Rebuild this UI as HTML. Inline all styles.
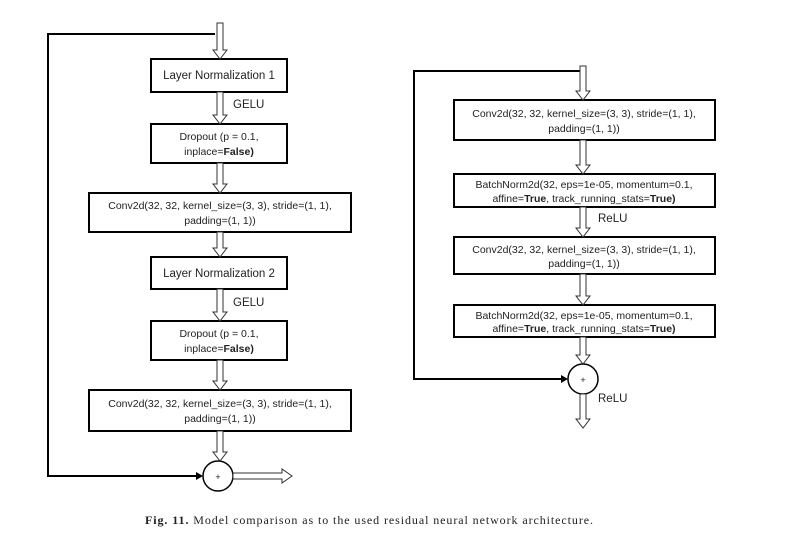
<!DOCTYPE html>
<html><head><meta charset="utf-8"><style>
body{margin:0;background:#fff;width:787px;height:537px;overflow:hidden}
svg{position:absolute;left:0;top:0}
text{font-family:"Liberation Sans",sans-serif;fill:#222}
.b{font-size:10.5px}
.l{font-size:11.5px}
</style></head><body>
<svg id="s" width="787" height="537" viewBox="0 0 787 537">
<g fill="#fff" stroke="#000" stroke-width="2">
<rect x="151" y="59" width="136" height="33"/>
<rect x="151" y="124" width="136" height="39"/>
<rect x="89" y="193" width="262" height="39"/>
<rect x="151" y="257" width="136" height="32"/>
<rect x="151" y="321" width="136" height="39"/>
<rect x="89" y="390" width="262" height="41"/>
<circle cx="218" cy="476" r="15" stroke-width="1.5"/>
<rect x="454" y="100" width="261" height="40"/>
<rect x="454" y="174" width="261" height="33"/>
<rect x="454" y="237" width="261" height="37"/>
<rect x="454" y="305" width="261" height="32"/>
<circle cx="583" cy="379" r="15" stroke-width="1.5"/>
</g>
<g fill="none" stroke="#000" stroke-width="2">
<polyline points="215,34 48,34 48,476 200,476"/>
<polyline points="580,71 414,71 414,379 565,379"/>
</g>
<polygon points="203,476 196,472 196,480" fill="#000"/>
<polygon points="568,379 561,375 561,383" fill="#000"/>
<g id="arr" fill="#fff" stroke="#333" stroke-width="1"></g>
<text x="218" y="480" font-size="9" text-anchor="middle">+</text>
<text x="583" y="383" font-size="9" text-anchor="middle">+</text>
<g class="l" text-anchor="middle">
<text x="219" y="79">Layer Normalization 1</text>
<text x="219" y="277">Layer Normalization 2</text>
</g>
<text class="l" x="233" y="108">GELU</text>
<text class="l" x="233" y="306">GELU</text>
<text class="l" x="598" y="222">ReLU</text>
<text class="l" x="598" y="402">ReLU</text>
<g class="b" text-anchor="middle">
<text x="219" y="140">Dropout (p = 0.1,</text>
<text x="219" y="155">inplace=<tspan font-weight="bold">False)</tspan></text>
<text x="220" y="209">Conv2d(32, 32, kernel_size=(3, 3), stride=(1, 1),</text>
<text x="220" y="224">padding=(1, 1))</text>
<text x="219" y="337">Dropout (p = 0.1,</text>
<text x="219" y="352">inplace=<tspan font-weight="bold">False)</tspan></text>
<text x="220" y="407">Conv2d(32, 32, kernel_size=(3, 3), stride=(1, 1),</text>
<text x="220" y="422">padding=(1, 1))</text>
<text x="584" y="117">Conv2d(32, 32, kernel_size=(3, 3), stride=(1, 1),</text>
<text x="584" y="132">padding=(1, 1))</text>
<text x="584" y="188">BatchNorm2d(32, eps=1e-05, momentum=0.1,</text>
<text x="584" y="202">affine=<tspan font-weight="bold">True</tspan>, track_running_stats=<tspan font-weight="bold">True)</tspan></text>
<text x="584" y="253">Conv2d(32, 32, kernel_size=(3, 3), stride=(1, 1),</text>
<text x="584" y="267">padding=(1, 1))</text>
<text x="584" y="319">BatchNorm2d(32, eps=1e-05, momentum=0.1,</text>
<text x="584" y="332">affine=<tspan font-weight="bold">True</tspan>, track_running_stats=<tspan font-weight="bold">True)</tspan></text>
</g>
<text x="145" y="524" textLength="448" lengthAdjust="spacing" style="font-family:'Liberation Serif',serif;font-size:12px"><tspan font-weight="bold">Fig. 11.</tspan>  Model comparison as to the used residual neural network architecture.</text>
</svg>
<script>
var g=document.getElementById('arr'),ns='http://www.w3.org/2000/svg';
function v(cx,a,b){var p=document.createElementNS(ns,'polygon');var h=b-9;
p.setAttribute('points',[cx-3,a,cx+3,a,cx+3,h,cx+7,h,cx,b,cx-7,h,cx-3,h].join(' '));g.appendChild(p);}
[[23,59],[92,124],[163,193],[232,257],[289,321],[360,390],[431,461]].forEach(function(x){v(220,x[0],x[1]);});
[[66,100],[140,174],[207,237],[274,305],[337,364],[394,428]].forEach(function(x){v(583,x[0],x[1]);});
var p=document.createElementNS(ns,'polygon');
p.setAttribute('points','233,473 282,473 282,469 292,476 282,483 282,479 233,479');g.appendChild(p);
</script>
</body></html>
